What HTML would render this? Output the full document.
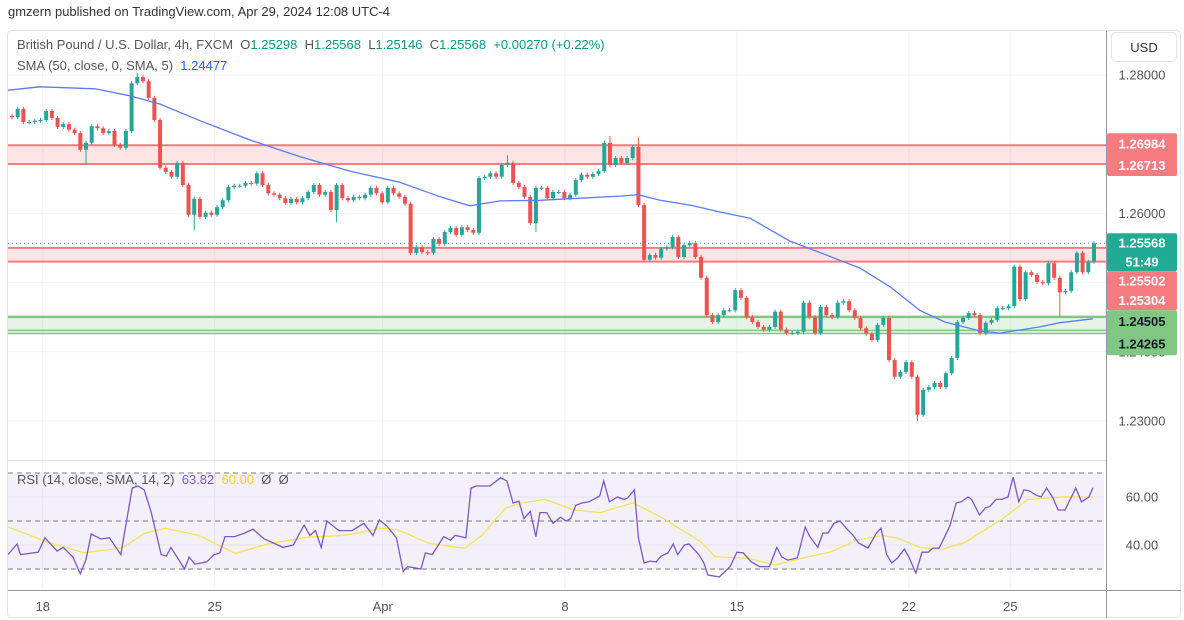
<!DOCTYPE html>
<html><head><meta charset="utf-8"><style>
html,body{margin:0;padding:0;background:#fff;}
svg{display:block;font-family:"Liberation Sans",sans-serif;}
.pre{white-space:pre;}
</style></head><body>
<svg id="chart" width="1184" height="620" viewBox="0 0 1184 620" xmlns="http://www.w3.org/2000/svg">
<rect width="1184" height="620" fill="#fff"/>
<text x="8" y="16" font-size="13" fill="#333">gmzern published on TradingView.com, Apr 29, 2024 12:08 UTC-4</text>
<rect x="7.5" y="30.5" width="1173" height="587" rx="4" fill="none" stroke="#e0e3eb"/>
<g id="grid"></g>
<g id="zones"></g>
<g id="mainPane" clip-path="url(#clipMain)"></g>
<g id="rsiPane" clip-path="url(#clipRsi)"></g>
<defs>
<clipPath id="clipMain"><rect x="8" y="31" width="1098" height="429"/></clipPath>
<clipPath id="clipRsi"><rect x="8" y="461" width="1098" height="129"/></clipPath>
</defs>
<line x1="1106.5" y1="31" x2="1106.5" y2="618" stroke="#9598a1"/>
<line x1="8" y1="590.5" x2="1181" y2="590.5" stroke="#9598a1"/>
<line x1="8" y1="460.5" x2="1106" y2="460.5" stroke="#e0e3eb"/>
<g id="axes"></g>
<g>
<rect x="1111.5" y="32.5" width="65" height="29" rx="4" fill="#fff" stroke="#e0e3eb"/>
<text x="1144" y="52" font-size="13" fill="#333" text-anchor="middle">USD</text>
</g>
<g>
<text class="pre" x="17" y="49" font-size="13" fill="#555">British Pound / U.S. Dollar, 4h, FXCM  <tspan fill="#555">O</tspan><tspan fill="#089981">1.25298</tspan><tspan fill="#555">  H</tspan><tspan fill="#089981">1.25568</tspan><tspan fill="#555">  L</tspan><tspan fill="#089981">1.25146</tspan><tspan fill="#555">  C</tspan><tspan fill="#089981">1.25568  +0.00270 (+0.22%)</tspan></text>
<text class="pre" x="17" y="70" font-size="13" fill="#555">SMA (50, close, 0, SMA, 5)  <tspan fill="#2962ff">1.24477</tspan></text>
<text class="pre" x="17" y="484" font-size="13" fill="#555">RSI (14, close, SMA, 14, 2)  <tspan fill="#7e57c2">63.82</tspan>  <tspan fill="#f5d327">60.00</tspan>  Ø  Ø</text>
</g>
</svg>
<script>
const closes = [1.2739,1.2751,1.2732,1.2732,1.2734,1.2735,1.2748,1.2738,1.2725,1.2729,
1.2721,1.2716,1.2692,1.2702,1.2726,1.2723,1.2716,1.2719,1.2699,1.2695,
1.2719,1.2788,1.2797,1.2791,1.2767,1.2735,1.2666,1.2660,1.2653,1.2673,
1.2641,1.2598,1.2621,1.2595,1.2601,1.2598,1.2609,1.2619,1.2638,1.2640,
1.2640,1.2644,1.2643,1.2658,1.2641,1.2629,1.2627,1.2622,1.2615,1.2621,
1.2616,1.2622,1.2631,1.2641,1.2627,1.2631,1.2605,1.2641,1.2622,1.2619,
1.2624,1.2622,1.2627,1.2637,1.2629,1.2616,1.2637,1.2629,1.2624,1.2614,
1.2543,1.2551,1.2544,1.2543,1.2563,1.2556,1.2573,1.2579,1.2569,1.2580,
1.2576,1.2572,1.2651,1.2653,1.2658,1.2653,1.2670,1.2673,1.2644,1.2638,
1.2624,1.2586,1.2637,1.2637,1.2622,1.2631,1.2631,1.2622,1.2627,1.2648,
1.2656,1.2653,1.2657,1.2661,1.2702,1.2670,1.2680,1.2673,1.2680,1.2696,
1.2612,1.2533,1.2540,1.2536,1.2549,1.2551,1.2566,1.2537,1.2554,1.2557,
1.2537,1.2507,1.2453,1.2443,1.2453,1.2460,1.2460,1.2489,1.2478,1.2450,
1.2443,1.2436,1.2432,1.2436,1.2458,1.2432,1.2427,1.2427,1.2429,1.2471,
1.2450,1.2427,1.2465,1.2453,1.2450,1.2471,1.2473,1.2460,1.2449,1.2434,
1.2426,1.2417,1.2439,1.2449,1.2388,1.2364,1.2371,1.2385,1.2364,1.2309,
1.2345,1.2349,1.2355,1.2349,1.2369,1.2391,1.2443,1.2449,1.2456,1.2453,
1.2427,1.2442,1.2446,1.2463,1.2463,1.2466,1.2523,1.2476,1.2515,1.2511,
1.2501,1.2499,1.2528,1.2507,1.2486,1.2488,1.2515,1.2543,1.2515,1.2530,
1.25568];
const firstOpen = 1.2741;
const wickIdx = [13,22,32,57,87,92,105,110,159,184];
const wickHigh = [null,1.2803,null,null,1.2684,null,1.2712,1.2710,null,null];
const wickLow = [1.2670,null,1.2576,1.2587,null,1.2573,null,null,1.2300,1.2450];
const smaT = [-0.7,4.9,14.6,20.7,26,33,41.8,50.6,59.4,68.1,75.2,80.4,85.7,92.7,99.7,106.8,109.9,113.8,119.1,124.3,129.6,136.6,143.6,148.9,154.2,159.4,163.8,170,173.5,180.5,184,189.8];
const smaV = [1.2778,1.2783,1.2780,1.2770,1.2758,1.2734,1.2706,1.2682,1.2661,1.2645,1.2624,1.2611,1.2618,1.2619,1.2622,1.2625,1.2627,1.2619,1.2612,1.2602,1.2593,1.2560,1.2538,1.2521,1.2494,1.2460,1.2443,1.2430,1.2427,1.2436,1.2442,1.24477];
const rsiT = [-0.7,0.9,1.5,4.6,5.8,7.9,9.0,10.7,12.0,13.0,
13.9,15.6,17.1,19.1,21.1,22.1,23.2,24.4,26.2,27.1,
27.9,30.3,31.1,32.1,34.2,35.5,36.5,37.4,39.1,40.9,
42.3,44.3,47.6,49.4,51.3,52.3,53.3,54.3,55.3,57.4,
59.7,61.8,63.4,64.5,65.8,67.5,68.7,69.5,71.8,72.6,
73.8,75.8,77.0,77.8,79.7,80.6,81.5,83.9,85.8,86.9,
88.0,89.0,89.9,91.0,92.0,92.7,93.9,95.0,96.3,97.3,
98.1,99.0,100.1,101.3,103.2,
103.9,104.9,106.3,107.5,108.1,109.3,110.0,111.0,112.0,113.1,
114.0,115.2,116.1,116.9,118.1,118.9,120.6,121.5,122.2,124.2,
126.1,127.3,128.4,129.8,131.3,133.0,134.3,135.2,136.2,137.9,
139.3,140.1,141.5,142.4,143.3,144.3,145.4,146.5,147.7,148.7,
150.3,151.8,152.6,153.6,154.5,155.5,156.7,157.5,158.7,159.8,
160.9,161.7,162.8,163.8,164.7,165.8,166.7,167.9,168.5,169.9,
170.9,171.7,172.8,173.8,174.9,175.8,176.8,177.7,178.7,179.8,
180.7,181.7,182.8,183.7,184.9,186.8,187.8,189.1,189.8];
const rsiV = [36,40.4,36,37,43,37.5,39,35,28,34,
44.6,42.5,43,36,63.7,64.6,63,54,36,35.4,
39,30,35,32,33,36,36.7,43.5,43.5,45,
46.6,42.5,39,40,48.3,44,46,39,50,46,
46,49,44,50.4,48,43,29,31,30,36.7,
36,43.5,42,44,43,63.7,64.6,64.6,68,66.7,
57.5,58.3,51,54,43.5,53.5,53.5,49,51.6,50,
51,56.6,57.5,58,60.4,
66.7,58,60,59,59.6,63,43,32.5,33.3,33,
35.4,36.7,40.4,36,40,40.4,36,32.5,27.5,26.7,
31,37,36.7,33,31,31,39,35,33.7,34.6,
47.5,43.5,39,45,45,49,50,47,44,40.8,
38.7,45,47,36,32.5,34.6,38.3,35,28.3,37,
37,38.7,38.7,43.5,48,57.5,58,60,59,52.5,
55.4,56,59,59,60,68.3,58,63,62.5,60.8,
60,63.7,59.6,54.6,54.6,63.7,58,60,63.82];
const rsiSmaT = [-0.7,6.0,12.6,19.3,23.4,26.9,32.8,39.2,44.9,51.6,58.3,65.1,67.8,73.2,79.5,82.5,86.6,89.2,93.6,98.7,103.3,109.1,114.4,120.9,123.5,129.4,134,139.9,143.8,148.4,152.9,155.6,159.4,163.4,167.3,170,173.8,178.4,185,189.9];
const rsiSmaV = [47.6,41.4,36.8,38.7,45,47,44,36.5,40.4,43.2,44,47,46.3,40.7,38.6,44,55.3,57.4,59,54.6,53.5,57.6,51.1,41.4,35.1,34.4,31.7,35.1,37.2,42,44,42.8,39,38.2,41,45.1,50.7,59,60.1,60];
const priceTicks = [1.28,1.27,1.26,1.25,1.24,1.23];
const priceTickLabels = ["1.28000","","1.26000","","1.24000","1.23000"];
const rsiTicks = [60,40];
const rsiTickLabels = ["60.00","40.00"];
const timeT = [5.4,35.6,65.1,97.1,127.3,157.5,175.3];
const timeLabels = ["18","25","Apr","8","15","22","25"];
const redZones = [[1.26984,1.26713],[1.25502,1.25304]];
const greenZone = [1.24505,1.24265];
const greenExtra = 1.24310;
const lastPrice = 1.25568;

const NS="http://www.w3.org/2000/svg";
const X0=12, STEP=(1094-12)/190;
const xS=t=>X0+t*STEP;
const yP=p=>75+(1.28-p)*6920;
const yR=v=>521-(v-50)*2.4;
function mk(tag,attrs,parent){const e=document.createElementNS(NS,tag);for(const k in attrs)e.setAttribute(k,attrs[k]);parent.appendChild(e);return e;}
const grid=document.getElementById('grid'),zones=document.getElementById('zones'),main=document.getElementById('mainPane'),rsiG=document.getElementById('rsiPane'),axes=document.getElementById('axes');

priceTicks.forEach((p,i)=>{
  const l=mk('line',{x1:8,x2:1106,y1:yP(p),y2:yP(p),stroke:'#f0f3fa'},grid);
  
  
  if(priceTickLabels[i]){const t=mk('text',{x:1142,y:yP(p)+4.5,'font-size':13,fill:'#555','text-anchor':'middle'},axes);t.textContent=priceTickLabels[i];
  
  }
});
timeT.forEach((t,i)=>{
  const l=mk('line',{x1:xS(t),x2:xS(t),y1:31,y2:590,stroke:'#f0f3fa'},grid);
  
  
  const tx=mk('text',{x:xS(t),y:611,'font-size':13,fill:'#555','text-anchor':'middle'},axes);tx.textContent=timeLabels[i];
  
  
});
redZones.forEach(z=>{
  const r=mk('rect',{x:8,width:1098,y:yP(z[0]),height:yP(z[1])-yP(z[0]),fill:'rgba(247,124,128,0.2)'},zones);
  
  
  z.forEach(p=>{const l=mk('line',{x1:8,x2:1106,y1:yP(p),y2:yP(p),stroke:'#f77c80','stroke-width':2},zones);
  
  });
});
{
  const r=mk('rect',{x:8,width:1098,y:yP(greenZone[0]),height:yP(greenZone[1])-yP(greenZone[0]),fill:'rgba(129,199,132,0.2)'},zones);
  
  
  [greenZone[0],greenExtra,greenZone[1]].forEach((p,i)=>{const l=mk('line',{x1:8,x2:1106,y1:yP(p),y2:yP(p),stroke:'#81c784','stroke-width':i==0?2.5:1.5},zones);
  
  });
}
{const l=mk('line',{x1:8,x2:1106,y1:yP(lastPrice),y2:yP(lastPrice),stroke:'#22ab94','stroke-dasharray':'1 3'},zones);

}
closes.forEach((c,i)=>{
  const o=i==0?firstOpen:closes[i-1];
  const up=c>=o;
  const col=up?'#26a69a':'#ef5350';
  const k=wickIdx.indexOf(i);
  let hi=Math.max(o,c)+0.0003, lo=Math.min(o,c)-0.0003;
  if(k>=0){if(wickHigh[k]!=null)hi=wickHigh[k];if(wickLow[k]!=null)lo=wickLow[k];}
  const x=xS(i);
  const g=mk('g',{},main);
  
  
  mk('line',{x1:x,x2:x,y1:yP(hi),y2:yP(lo),stroke:col,'stroke-width':1},g);
  const yt=yP(Math.max(o,c)),yb=yP(Math.min(o,c));
  mk('rect',{x:x-2,y:yt,width:4,height:Math.max(1,yb-yt),fill:col},g);
});
{const d=smaT.map((t,i)=>(i?'L':'M')+xS(t).toFixed(1)+','+yP(smaV[i]).toFixed(1)).join('');
const p=mk('path',{d:d,fill:'none',stroke:'#5b7cfa','stroke-width':1.3},main);

}
{const b=mk('rect',{x:8,y:yR(70),width:1096,height:yR(30)-yR(70),fill:'rgba(126,87,194,0.09)'},rsiG);


[70,50,30].forEach(v=>{const l=mk('line',{x1:8,x2:1104,y1:yR(v),y2:yR(v),stroke:'#787b86','stroke-dasharray':'5 4','stroke-width':1},rsiG);

});
rsiTicks.forEach((v,i)=>{const l=mk('line',{x1:8,x2:1104,y1:yR(v),y2:yR(v),stroke:'#e6e1f3'},rsiG);


const t=mk('text',{x:1142,y:yR(v)+4.5,'font-size':13,fill:'#555','text-anchor':'middle'},axes);t.textContent=rsiTickLabels[i];

});
const d2=rsiSmaT.map((t,i)=>(i?'L':'M')+xS(t).toFixed(1)+','+yR(rsiSmaV[i]).toFixed(1)).join('');
const p2=mk('path',{d:d2,fill:'none',stroke:'#f7e35a','stroke-width':1.3},rsiG);


const d=rsiT.map((t,i)=>(i?'L':'M')+xS(t).toFixed(1)+','+yR(rsiV[i]).toFixed(1)).join('');
const p=mk('path',{d:d,fill:'none',stroke:'#7e57c2','stroke-width':1.3},rsiG);

}
function label(y,h,bg,lines,fg,name){const g=mk('g',{},axes);


mk('rect',{x:1107,y:y,width:70,height:h,rx:2,fill:bg},g);
lines.forEach((s,i)=>{const t=mk('text',{x:1142,y:y+h/lines.length*(i+0.5)+4.5,'font-size':13,'font-weight':'bold',fill:fg,'text-anchor':'middle'},g);t.textContent=s;});}
label(yP(redZones[0][0])-12,yP(redZones[0][1])-yP(redZones[0][0])+24,'#f77c80',['1.26984','1.26713'],'#fff','resistance-upper-labels');
label(yP(lastPrice)-10,38,'#22ab94',['1.25568','51:49'],'#fff','last-price-label');
label(yP(lastPrice)+28,39,'#f77c80',['1.25502','1.25304'],'#fff','resistance-lower-labels');
label(yP(lastPrice)+67,45,'#81c784',['1.24505','1.24265'],'#131722','support-labels');
</script>
</body></html>
